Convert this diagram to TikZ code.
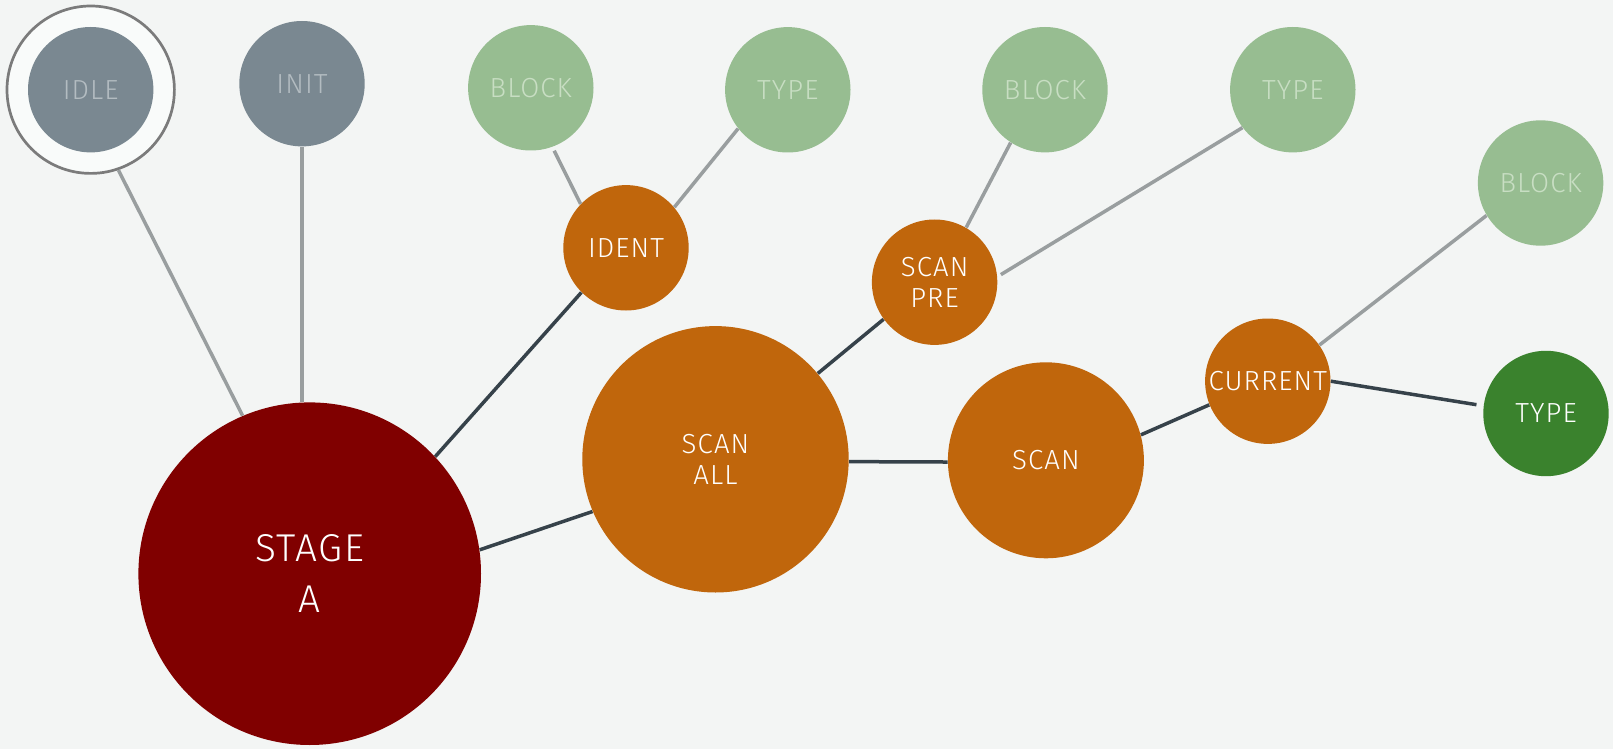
\documentclass[tikz,border=0pt]{standalone}
\usepackage{fontspec}
\setmainfont{Fira Sans Light}[LetterSpace=4]
\usepackage{xcolor}
\usetikzlibrary{positioning}

\definecolor{bgcol}{HTML}{F3F5F4}
\definecolor{slate}{HTML}{7A8891}
\definecolor{slatetext}{HTML}{B3BCC1}
\definecolor{sage}{HTML}{97BD91}
\definecolor{sagetext}{HTML}{C8DEC3}
\definecolor{rust}{HTML}{C0660C}
\definecolor{wine}{HTML}{800000}
\definecolor{leaf}{HTML}{3A822D}
\definecolor{weakline}{HTML}{999E9F}
\definecolor{strongline}{HTML}{36424A}
\definecolor{ringcol}{HTML}{7B7B7B}
\definecolor{ringfill}{HTML}{F9FBFA}

\begin{document}
\begin{tikzpicture}[
  x=0.5pt, y=-0.5pt,
  state/.style={circle, inner sep=0pt, align=center, text=white, font=\fontsize{13.8}{15.8}\selectfont, minimum size=62.7pt},
  idlestate/.style={state, fill=slate, text=slatetext},
  blockstate/.style={state, fill=sage, text=sagetext},
  runstate/.style={state, fill=rust},
  donestate/.style={state, fill=leaf},
  ring/.style={circle, draw=ringcol, line width=1.35pt, fill=ringfill, minimum size=83.7pt},
  weak/.style={draw=weakline, line width=1.75pt},
  strong/.style={draw=strongline, line width=1.75pt}
]
\fill[bgcol] (0,0) rectangle (1613,749);
\useasboundingbox (0,0) rectangle (1613,749);

% Grey states
\node[ring] (idlering) at (90.7,89.7) {};
\node[idlestate] (idle) at (idlering) {IDLE};
\node[idlestate] (init) at (302,83.7) {INIT};

% Waiting states
\node[blockstate] (blocka) at (530.8,87.8) {BLOCK};
\node[blockstate] (typea) at (787.8,89.8) {TYPE};
\node[blockstate] (blockb) at (1045,89.7) {BLOCK};
\node[blockstate] (typeb) at (1292.8,89.7) {TYPE};
\node[blockstate] (blockc) at (1540.6,183) {BLOCK};

% Active states
\node[state, fill=wine, minimum size=171.3pt, font=\fontsize{19.4}{25.3}\selectfont] (stage) at (309.7,573.7) {STAGE\\A};
\node[runstate] (ident) at (626,247.8) {IDENT};
\node[runstate] (scanpre) at (934.6,282.2) {SCAN\\PRE};
\node[runstate, minimum size=133.2pt] (scanall) at (715.5,459.3) {SCAN\\ALL};
\node[runstate, minimum size=98pt] (scan) at (1045.9,460.3) {SCAN};
\node[runstate] (current) at (1267.8,381.2) {CURRENT};
\node[donestate] (typec) at (1546,413.5) {TYPE};

% Light edges
\draw[weak] (idlering.289.7) -- (stage.113.7);
\draw[weak] (init) -- (init |- stage.north);
\draw[weak, shorten <=2pt] (blocka.290) -- (ident.136);
\draw[weak] (typea.218.7) -- (ident.40.5);
\draw[weak] (blockb.237.9) -- (scanpre.60.8);
\draw[weak, shorten >=2pt] (typeb.217.6) -- (scanpre.5.6);
\draw[weak] (blockc.211.9) -- (current.35.3);

% Dark edges
\draw[strong] (stage.43.5) -- (ident.225.4);
\draw[strong] (stage.8.8) -- (scanall.203.4);
\draw[strong] (scanall.40.4) -- (scanpre.216.6);
\draw[strong] (scanall.359.3) -- (scan.181.8);
\draw[strong] (scan.15.9) -- (current.202.5);
\draw[strong, shorten >=3.5pt] (current.0.2) -- (typec.173.8);

\end{tikzpicture}
\end{document}
